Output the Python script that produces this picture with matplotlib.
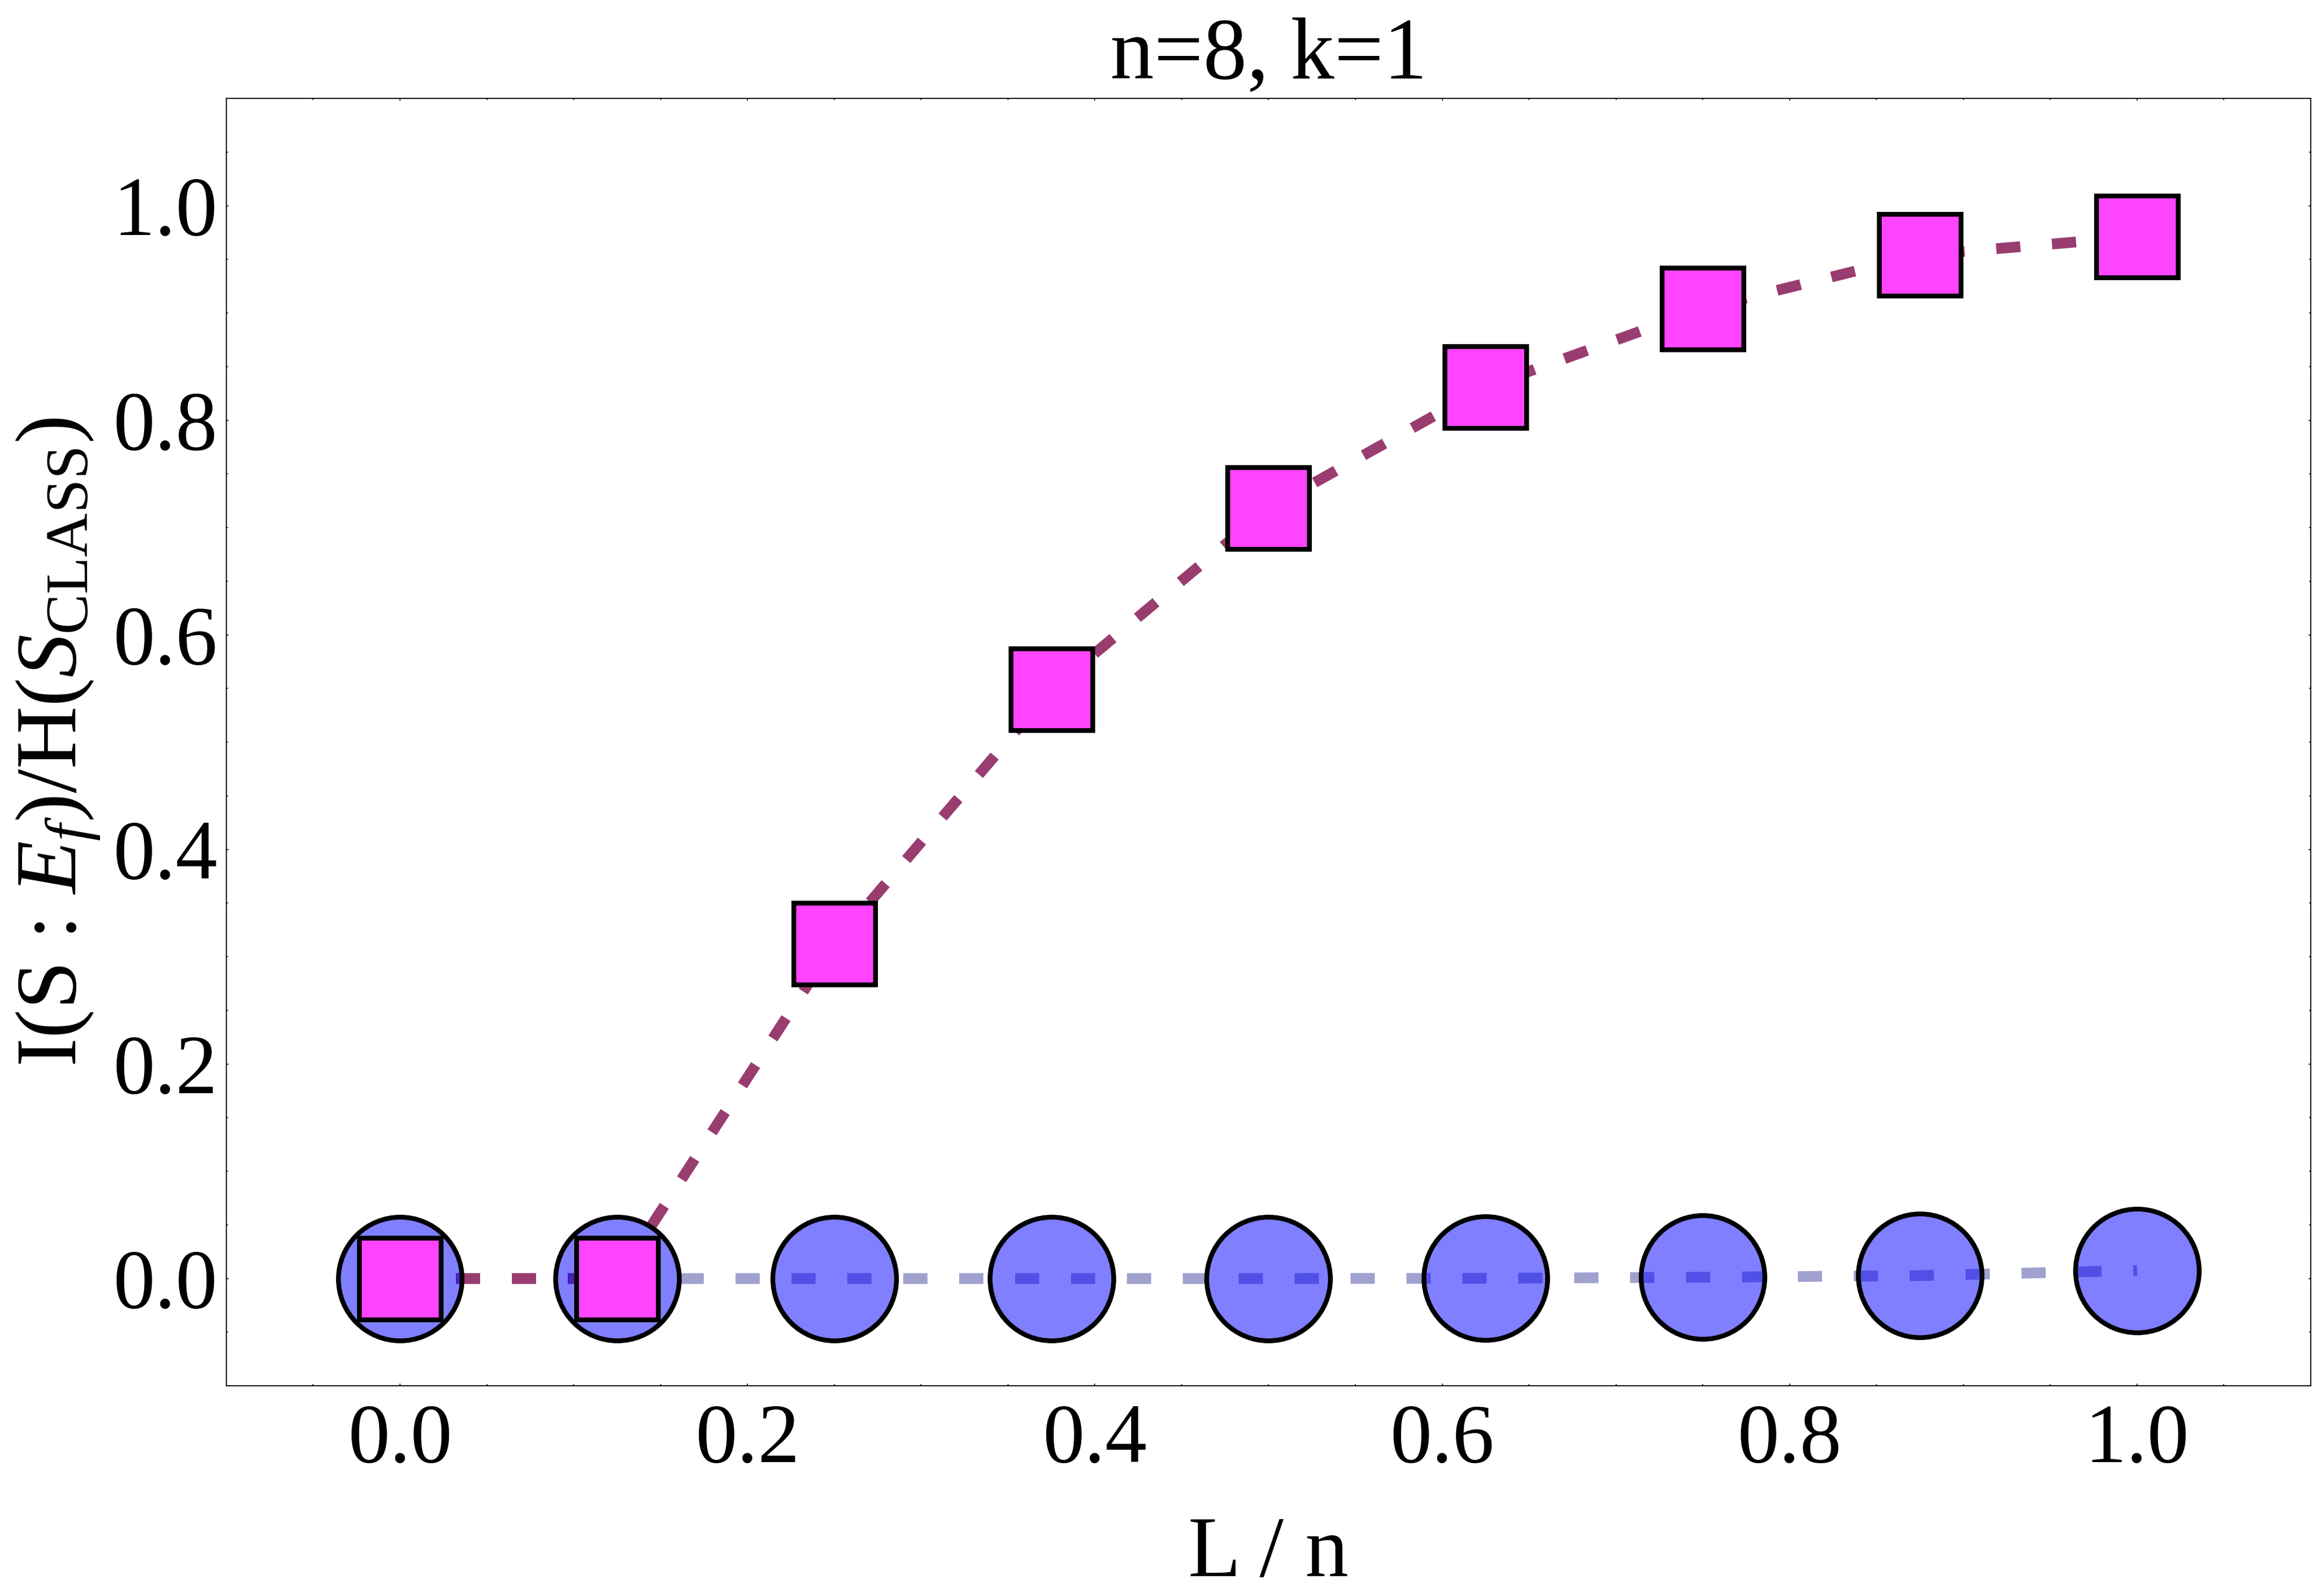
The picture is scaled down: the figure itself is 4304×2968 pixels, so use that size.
import matplotlib
matplotlib.use('Agg')
import matplotlib.pyplot as plt
from matplotlib.ticker import MultipleLocator

# Данные
x_vals = [0.0, 0.125, 0.25, 0.375, 0.5, 0.625, 0.75, 0.875, 1.0]
squares_y = [0.0, 0.0, 0.312, 0.549, 0.718, 0.831, 0.904, 0.954, 0.971]
circles_y = [0.0, 0.0, 0.0, 0.0, 0.0, 0.0002, 0.0012, 0.0027, 0.0075]

title_text = 'n=8, k=1'
xlabel_text = 'L / n'
ylabel_text = r'I(S : $E_f$)/H($S_{\mathrm{CLASS}}$)'

# Шрифты
plt.rcParams['font.family'] = ['Liberation Serif', 'DejaVu Serif']
plt.rcParams['mathtext.fontset'] = 'custom'
plt.rcParams['mathtext.rm'] = 'Liberation Serif'
plt.rcParams['mathtext.it'] = 'Liberation Serif:italic'

fig = plt.figure(figsize=(21.52, 14.84), dpi=200)
ax = fig.add_axes([0.0978, 0.1317, 0.9008, 0.8066])

lw = 7.2
dash = (2.25, 2.95)

# Линии
ax.plot(x_vals, circles_y, color='#a1a1d0', lw=lw, dashes=dash, zorder=2)
ax.plot(x_vals, squares_y, color='#993d70', lw=lw, dashes=dash, zorder=3)

# Маркеры
ax.plot(x_vals, circles_y, ls='none', marker='o', markersize=82.8,
        markerfacecolor=(0, 0, 1, 0.5), markeredgecolor='black',
        markeredgewidth=3.2, zorder=4)
ax.plot(x_vals, squares_y, ls='none', marker='s', markersize=55,
        markerfacecolor='#ff44ff', markeredgecolor='black',
        markeredgewidth=3.2, zorder=5)

ax.set_xlim(-0.1, 1.1)
ax.set_ylim(-0.1, 1.1)

ax.xaxis.set_major_locator(MultipleLocator(0.2))
ax.xaxis.set_minor_locator(MultipleLocator(0.05))
ax.yaxis.set_major_locator(MultipleLocator(0.2))
ax.yaxis.set_minor_locator(MultipleLocator(0.05))
ax.xaxis.set_major_formatter(plt.FuncFormatter(lambda v, p: f'{v:.1f}'))
ax.yaxis.set_major_formatter(plt.FuncFormatter(lambda v, p: f'{v:.1f}'))

ax.tick_params(which='both', direction='in', top=True, right=True, width=0.6, color='black')
ax.tick_params(which='major', length=1.6)
ax.tick_params(which='minor', length=1.1)
ax.tick_params(axis='x', which='major', labelsize=56, pad=12)
ax.tick_params(axis='y', which='major', labelsize=56, pad=6)

for s in ax.spines.values():
    s.set_linewidth(0.75)
    s.set_color('black')

# Подписи
ax.set_title(title_text, fontsize=58.5, pad=13.5)
ax.set_xlabel(xlabel_text, fontsize=58)
ax.xaxis.label.set_va('baseline')
ax.xaxis.set_label_coords(0.5, -0.148)
ax.set_ylabel(ylabel_text, fontsize=58)
ax.yaxis.label.set_va('baseline')
ax.yaxis.set_label_coords(-0.072, 0.5)

fig.savefig('out.png', dpi=200)
